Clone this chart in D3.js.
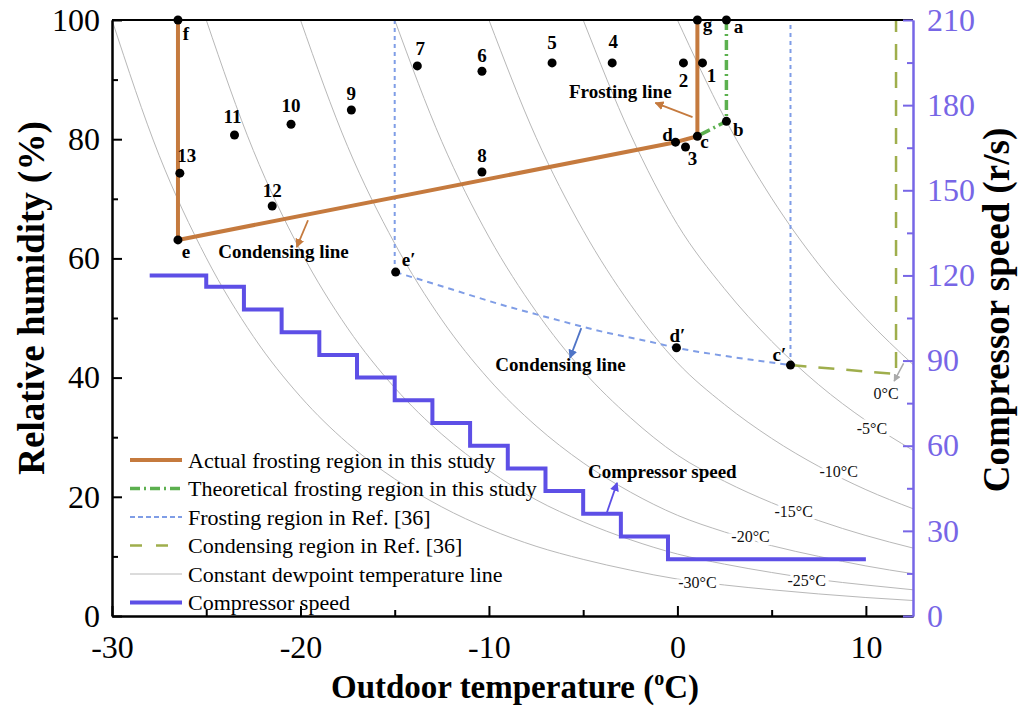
<!DOCTYPE html>
<html>
<head>
<meta charset="utf-8">
<style>
body { margin: 0; background: #fff; }
svg { font-family: "Liberation Serif", "Times New Roman", serif; }
.axis path, .axis line { stroke: #000; stroke-width: 2; }
.axis text { font-size: 32px; fill: #000; font-family: "Liberation Serif", serif; }
.right path, .right line { stroke: #7766e6; }
.right text { fill: #7766e6; }
.dew { fill: none; stroke: #b8b8b8; stroke-width: 1; }
.dewlabel { font-size: 16px; fill: #111; stroke: #fff; stroke-width: 7; paint-order: stroke; }
.ptlabel { font-size: 19px; font-weight: bold; fill: #000; }
.note { font-size: 19px; font-weight: bold; fill: #000; }
.legend text { font-size: 22px; fill: #000; }
.title { font-size: 37px; font-weight: bold; fill: #000; }
.xtitle { font-size: 33px; font-weight: bold; fill: #000; }
</style>
</head>
<body>
<svg width="1026" height="707"></svg>
<script src="https://cdn.jsdelivr.net/npm/d3@7"></script>
<script>

// ---- ticks
var tempTicks = [-30, -20, -10, 0, 10],
    tempMinor = [-25, -15, -5, 5],
    rhTicks = [0, 20, 40, 60, 80, 100],
    rhMinor = [10, 30, 50, 70, 90],
    speedTicks = [0, 30, 60, 90, 120, 150, 180, 210],
    speedMinor = [15, 45, 75, 105, 135, 165, 195];

// ---- constant dewpoint lines, [outdoor temp, RH]
var dew0   = [[0,100],[2.5,83.6],[5,70.1],[7.5,59.0],[10,49.9],[12.5,42.2]];
var dewM5  = [[-5,100],[-2.5,80.9],[0,65.7],[2.5,54.9],[5,46.1],[7.5,38.8],[10,32.8],[12.5,27.8]];
var dewM10 = [[-10,100],[-7.5,80.3],[-5,64.7],[-2.5,52.3],[0,42.5],[2.5,35.5],[5,29.8],[7.5,25.1],[10,21.2],[12.5,18.0]];
var dewM15 = [[-15,100],[-12.5,79.6],[-10,63.6],[-7.5,51.1],[-5,41.1],[-2.5,33.3],[0,27.0],[2.5,22.6],[5,19.0],[7.5,16.0],[10,13.5],[12.5,11.4]];
var dewM20 = [[-20,100],[-17.5,78.8],[-15,62.5],[-12.5,49.7],[-10,39.7],[-7.5,31.9],[-5,25.7],[-2.5,20.8],[0,16.9],[2.5,14.1],[5,11.8],[7.5,10.0],[10,8.4],[12.5,7.1]];
var dewM25 = [[-25,100],[-22.5,78.1],[-20,61.3],[-17.5,48.3],[-15,38.3],[-12.5,30.5],[-10,24.4],[-7.5,19.5],[-5,15.8],[-2.5,12.8],[0,10.4],[2.5,8.7],[5,7.3],[7.5,6.1],[10,5.2],[12.5,4.4]];
var dewM30 = [[-30,100],[-27.5,77.3],[-25,60.1],[-22.5,46.9],[-20,36.8],[-17.5,29.0],[-15,23.0],[-12.5,18.3],[-10,14.6],[-7.5,11.7],[-5,9.5],[-2.5,7.7],[0,6.2],[2.5,5.2],[5,4.4],[7.5,3.7],[10,3.1],[12.5,2.6]];
var dewLines = [dew0, dewM5, dewM10, dewM15, dewM20, dewM25, dewM30];
var dewNames = ["0°C", "-5°C", "-10°C", "-15°C", "-20°C", "-25°C", "-30°C"];
// where each name sits (temp, RH)
var dewNameT  = [11.07, 10.32, 8.56, 6.17, 3.88, 6.86, 1.06];
var dewNameRH = [37.4, 31.5, 24.3, 17.6, 13.3, 5.9, 5.7];

// ---- frosting / condensing regions
var actualT  = [-26.5, -26.5, -0.1, 1.06, 1.06];
var actualRH = [100, 63.1, 79.5, 80.5, 100];
var theoT  = [2.6, 2.6, 1.06];
var theoRH = [100, 83.0, 80.5];
var refLeftT = [-15, -15], refLeftRH = [100, 57.7];
var refCurveT  = [-14.95, -12.07, -9.41, -6.76, -4.10, -1.44, -0.05, 2.82, 6.0];
var refCurveRH = [57.7, 54.9, 52.3, 50.0, 47.8, 46.0, 45.0, 43.5, 42.1];
var refRightT = [6.0, 6.0], refRightRH = [42.1, 100];
var condT  = [6.0, 11.6, 11.6];
var condRH = [42.1, 40.6, 100];

// ---- compressor speed (r/s), steps
var speedT   = [-28, -25, -23, -21, -19, -17, -15, -13, -11, -9, -7, -5, -3, -0.5, 10];
var speedVal = [120, 116, 108, 100, 92, 84, 76, 68, 60, 52, 44, 36, 28, 20, 20];

// ---- test points
var pointNames = ["1","2","3","4","5","6","7","8","9","10","11","12","13","a","b","c","d","e","f","g","e′","d′","c′"];
var pointT  = [1.33, 0.32, 0.43, -3.46, -6.65, -10.37, -13.8, -10.37, -17.3, -20.5, -23.5, -21.5, -26.4, 2.6, 2.6, 1.06, -0.1, -26.5, -26.5, 1.06, -14.95, -0.05, 6.0];
var pointRH = [92.8, 92.8, 78.7, 92.8, 92.8, 91.4, 92.3, 74.5, 84.9, 82.5, 80.7, 68.8, 74.3, 100, 83.0, 80.5, 79.5, 63.1, 100, 100, 57.7, 45.0, 42.1];
// label offsets in px (layout only)
var pointLabelDx = [9, 0, 7, 1, 0, 0, 3, 0, 0, 0, -2, 0, 7, 12, 12, 7, -8, 8, 8, 10, 13, 1, -11];
var pointLabelDy = [19, 24, 18, -15, -14, -9, -11, -10, -10, -12, -12, -9, -11, 13, 15, 12, -1, 18, 20, 11, -6, -6, -4];

var svg = d3.select("svg");
var x = d3.scaleLinear().domain([-30, 12.5]).range([112, 913]);
var y = d3.scaleLinear().domain([0, 100]).range([616, 20]);
var y2 = d3.scaleLinear().domain([0, 210]).range([616, 20]);

var orange = "#c57a3e", green = "#5cb04f", blue = "#7f9de6", olive = "#9fae4c",
    purple = "#5d4fe6", axisPurple = "#7766e6";

var defs = svg.append("defs");
function marker(id, color) {
  defs.append("marker")
    .attr("id", id)
    .attr("viewBox", "0 0 10 10")
    .attr("refX", 9).attr("refY", 5)
    .attr("markerWidth", 5).attr("markerHeight", 5)
    .attr("orient", "auto")
    .append("path").attr("d", "M0,0L10,5L0,10z").attr("fill", color);
}
marker("arOrange", orange);
marker("arBlue", "#4f74c6");
marker("arPurple", purple);
marker("arGray", "#aaa");

var line = d3.line().x(function(d) { return x(d[0]); }).y(function(d) { return y(d[1]); });
function zip(a, b) { return a.map(function(v, i) { return [v, b[i]]; }); }

// dewpoint lines
svg.append("g").selectAll("path")
  .data(dewLines)
  .enter().append("path")
  .attr("class", "dew")
  .attr("d", d3.line().x(function(d) { return x(d[0]); }).y(function(d) { return y(d[1]); }).curve(d3.curveMonotoneX));

svg.append("g").selectAll("text")
  .data(dewNames)
  .enter().append("text")
  .attr("class", "dewlabel")
  .attr("x", function(d, i) { return x(dewNameT[i]); })
  .attr("y", function(d, i) { return y(dewNameRH[i]); })
  .attr("text-anchor", "middle")
  .attr("dy", "0.35em")
  .text(function(d) { return d; });

// grey arrow to 0°C label
svg.append("line")
  .attr("x1", x(12.0)).attr("y1", y(42.4))
  .attr("x2", x(11.5)).attr("y2", y(39.4))
  .attr("stroke", "#aaa").attr("stroke-width", 1.5)
  .attr("marker-end", "url(#arGray)");

// Ref. [36] regions
svg.append("path").attr("d", line(zip(refLeftT, refLeftRH)))
  .attr("fill", "none").attr("stroke", blue).attr("stroke-width", 2).attr("stroke-dasharray", "4,4");
svg.append("path").attr("d", line.curve(d3.curveMonotoneX)(zip(refCurveT, refCurveRH)))
  .attr("fill", "none").attr("stroke", blue).attr("stroke-width", 2).attr("stroke-dasharray", "6,5");
line.curve(d3.curveLinear);
svg.append("path").attr("d", line(zip(refRightT, refRightRH)))
  .attr("fill", "none").attr("stroke", blue).attr("stroke-width", 2).attr("stroke-dasharray", "4,4");
svg.append("path").attr("d", line(zip(condT, condRH)))
  .attr("fill", "none").attr("stroke", olive).attr("stroke-width", 2.5).attr("stroke-dasharray", "16,12");

// this study
svg.append("path").attr("d", line(zip(actualT, actualRH)))
  .attr("fill", "none").attr("stroke", orange).attr("stroke-width", 4).attr("stroke-linejoin", "round");
svg.append("path").attr("d", line(zip(theoT, theoRH)))
  .attr("fill", "none").attr("stroke", green).attr("stroke-width", 3.5).attr("stroke-dasharray", "10,4,2,4");

// compressor speed
svg.append("path")
  .attr("d", d3.line().x(function(d) { return x(d[0]); }).y(function(d) { return y2(d[1]); }).curve(d3.curveStepAfter)(zip(speedT, speedVal)))
  .attr("fill", "none").attr("stroke", purple).attr("stroke-width", 4);

// points
var pts = svg.append("g").selectAll("g")
  .data(pointNames)
  .enter().append("g")
  .attr("transform", function(d, i) { return "translate(" + x(pointT[i]) + "," + y(pointRH[i]) + ")"; });
pts.append("circle").attr("r", 4.5).attr("fill", "#000");
pts.append("text")
  .attr("class", "ptlabel")
  .attr("text-anchor", "middle")
  .attr("x", function(d, i) { return pointLabelDx[i]; })
  .attr("y", function(d, i) { return pointLabelDy[i]; })
  .text(function(d) { return d; });

// annotations
function note(txt, t, rh, ax1, ay1, ax2, ay2, color, mk, ys) {
  var sc = ys || y;
  svg.append("text").attr("class", "note").attr("text-anchor", "middle")
    .attr("x", x(t)).attr("y", y(rh)).text(txt);
  svg.append("line")
    .attr("x1", x(ax1)).attr("y1", sc(ay1)).attr("x2", x(ax2)).attr("y2", sc(ay2))
    .attr("stroke", color).attr("stroke-width", 1.8)
    .attr("marker-end", "url(#" + mk + ")");
}
note("Frosting line", -3.03, 86.9, 0.8, 83.7, -1.17, 86.1, orange, "arOrange");
note("Condensing line", -20.9, 60.1, -19.6, 66.4, -20.2, 61.9, orange, "arOrange");
note("Condensing line", -6.2, 41.1, -5.1, 48.3, -5.7, 43.3, "#4f74c6", "arBlue");
note("Compressor speed", -0.8, 23.2, -3.75, 36.3, -3.2, 46.9, purple, "arPurple", y2);

// legend
var legendItems = ["Actual frosting region in this study", "Theoretical frosting region in this study",
  "Frosting region in Ref. [36]", "Condensing region in Ref. [36]",
  "Constant dewpoint temperature line", "Compressor speed"];
var legendStroke = [orange, green, blue, olive, "#b8b8b8", purple];
var legendWidth = [4, 3.5, 2, 2.5, 1, 4];
var legendDash = [null, "10,4,2,4", "5,3", "12,14", null, null];
var lg = svg.append("g").attr("class", "legend").selectAll("g")
  .data(legendItems)
  .enter().append("g")
  .attr("transform", function(d, i) { return "translate(130," + (460 + i * 28.5) + ")"; });
lg.append("line").attr("x1", 0).attr("x2", 52)
  .attr("stroke", function(d, i) { return legendStroke[i]; })
  .attr("stroke-width", function(d, i) { return legendWidth[i]; })
  .attr("stroke-dasharray", function(d, i) { return legendDash[i]; });
lg.append("text").attr("x", 58).attr("dy", "0.35em").text(function(d) { return d; });

// axes
var fmt = function(d) { return String(d); };
var gx = svg.append("g").attr("class", "axis").attr("transform", "translate(0,616)");
gx.call(d3.axisBottom(x).tickValues(tempTicks).tickSize(-10).tickSizeOuter(0).tickPadding(19).tickFormat(fmt));
svg.append("g").attr("class", "axis").attr("transform", "translate(0,616)")
  .call(d3.axisBottom(x).tickValues(tempMinor).tickSize(-6).tickSizeOuter(0).tickFormat(""));

svg.append("g").attr("class", "axis").attr("transform", "translate(112,0)")
  .call(d3.axisLeft(y).tickValues(rhTicks).tickSize(-10).tickSizeOuter(0).tickPadding(12).tickFormat(fmt));
svg.append("g").attr("class", "axis").attr("transform", "translate(112,0)")
  .call(d3.axisLeft(y).tickValues(rhMinor).tickSize(-6).tickSizeOuter(0).tickFormat(""));

svg.append("line").attr("x1", 112).attr("x2", 913).attr("y1", 20).attr("y2", 20)
  .attr("stroke", "#000").attr("stroke-width", 2);

svg.append("g").attr("class", "axis right").attr("transform", "translate(913,0)")
  .call(d3.axisRight(y2).tickValues(speedTicks).tickSize(-10).tickSizeOuter(0).tickPadding(14).tickFormat(fmt));
svg.append("g").attr("class", "axis right").attr("transform", "translate(913,0)")
  .call(d3.axisRight(y2).tickValues(speedMinor).tickSize(-6).tickSizeOuter(0).tickFormat(""));

// titles
svg.append("text").attr("class", "title").attr("text-anchor", "middle")
  .attr("transform", "translate(44,298) rotate(-90)").text("Relative humidity (%)");
svg.append("text").attr("class", "title").attr("text-anchor", "middle")
  .attr("transform", "translate(1009,310) rotate(-90)").text("Compressor speed (r/s)");
var xt = svg.append("text").attr("class", "xtitle").attr("text-anchor", "middle")
  .attr("x", 515).attr("y", 698);
xt.append("tspan").text("Outdoor temperature (");
xt.append("tspan").attr("font-size", "20px").attr("dy", "-13").text("o");
xt.append("tspan").attr("dy", "13").text("C)");

</script>
</body>
</html>
